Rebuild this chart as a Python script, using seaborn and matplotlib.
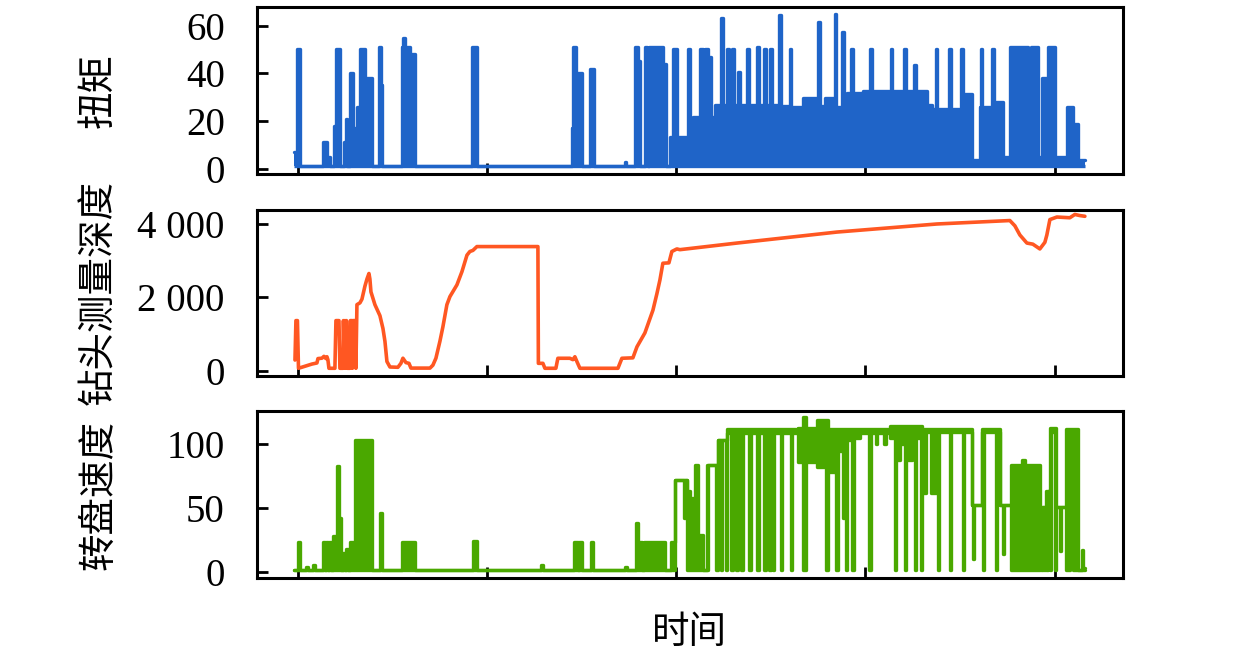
import numpy as np
import matplotlib
matplotlib.use("Agg")
import matplotlib.pyplot as plt
from matplotlib.ticker import FuncFormatter
import seaborn as sns

# ---- data (time in s) ----
# torque: step series, bins start at torque_t, filled from the floor up to torque_hi
torque_floor = 1.5
torque_t = [0, 3.2, 6.3, 30.7, 34.9, 38.1, 42.3, 44.9, 48.6, 53.4,
            55.0, 56.5, 59.2, 62.4, 66.6, 69.8, 75.0, 82.4, 89.8, 92.5,
            93.5, 114.2, 115.2, 117.3, 122.6, 128.4, 188.1, 193.4, 294.4, 294.9,
            298.1, 300.2, 304.4, 312.9, 317.6, 349.9, 351.5, 360.4, 363.6, 365.7,
            371.0, 373.1, 374.7, 375.2, 390.0, 393.2, 397.4, 400.6, 404.8, 416.5,
            418.6, 421.7, 429.1, 432.3, 434.4, 437.6, 440.8, 445.0, 451.3, 453.5,
            458.2, 459.8, 463.5, 465.1, 469.8, 471.4, 479.3, 480.9, 489.9, 491.5,
            497.3, 498.9, 503.7, 505.2, 513.2, 514.8, 524.3, 525.9, 538.0, 554.4,
            556.0, 561.3, 571.8, 573.4, 579.8, 581.4, 584.5, 589.3, 590.9, 601.4,
            609.4, 611.0, 631.0, 632.6, 645.3, 646.9, 655.9, 657.5, 669.1, 674.9,
            676.0, 678.6, 680.2, 692.9, 694.4, 705.6, 707.1, 709.2, 716.6, 725.1,
            726.2, 727.8, 738.3, 739.9, 749.4, 756.8, 775.8, 779.0, 786.4, 790.6,
            797.0, 804.4, 817.1, 823.4, 828.7, 836.1]
torque_hi = [7, 50, 1.5, 11.5, 5, 1.5, 18, 50, 1.5, 11.5,
             21, 1.5, 40, 17, 26, 50, 38, 1.5, 51, 35,
             1.5, 51, 55, 51, 48, 1.5, 51, 1.5, 17, 51,
             37, 40, 1.5, 42, 1.5, 3, 1.5, 51, 45, 1.5,
             51, 33, 1.5, 51, 44, 1.5, 13.6, 50, 13.6, 50,
             13.6, 22, 50, 22, 50, 47, 22, 26.8, 63, 26.8,
             50, 26.8, 50, 26.8, 40.7, 26.8, 50, 26.8, 51, 26.8,
             50, 26.8, 50, 26.8, 64.4, 26.5, 50, 26, 29.6, 61.6,
             26.5, 29.6, 65, 26, 57.4, 26, 31.7, 50, 31.7, 32.8,
             50, 32.8, 50, 32.8, 50, 32.8, 43.5, 32.8, 27, 5,
             25, 50, 25, 50, 25, 50, 25, 31.6, 4, 26,
             50, 26, 50, 28, 5, 51, 18.5, 51, 5, 38,
             51, 5, 26, 19, 4, 4]

# bit depth: plain line
depth_t = [1.1, 2.1, 3.7, 4.8, 11.6, 19.0, 24.3, 25.4, 29.6, 31.7,
           33.8, 34.9, 35.9, 37.0, 43.3, 44.4, 47.6, 48.6, 51.8, 52.3,
           53.4, 53.9, 55.0, 55.5, 56.5, 59.2, 59.7, 61.3, 61.8, 62.4,
           64.5, 65.5, 66.6, 69.8, 71.9, 75.0, 77.2, 79.3, 80.3, 81.4,
           85.6, 90.9, 94.1, 96.2, 98.3, 101.5, 109.9, 113.1, 115.2, 118.4,
           121.6, 123.7, 143.8, 146.9, 150.1, 154.3, 157.5, 161.7, 164.9, 172.3,
           177.6, 182.9, 186.0, 189.2, 193.4, 257.9, 258.4, 263.2, 265.3, 276.9,
           279.0, 291.7, 294.9, 297.0, 299.1, 302.3, 342.5, 346.7, 358.3, 362.6,
           371.0, 379.5, 383.7, 386.9, 390.0, 396.4, 399.5, 404.8, 408.0, 468.3,
           574.0, 679.7, 756.8, 762.1, 767.4, 774.8, 781.1, 788.5, 793.8, 795.9,
           799.1, 806.5, 820.2, 825.5, 830.8, 836.1]
depth_v = [290, 1365, 1365, 65, 120, 180, 210, 330, 340, 390,
           330, 380, 300, 65, 65, 1365, 1365, 65, 65, 1365,
           65, 1365, 65, 1365, 65, 65, 1365, 1365, 65, 1365,
           1365, 65, 1800, 1850, 1950, 2300, 2500, 2650, 2500, 2150,
           1800, 1500, 1150, 800, 250, 100, 92, 200, 340, 220,
           200, 70, 70, 150, 340, 800, 1200, 1800, 2020, 2340,
           2700, 3150, 3250, 3280, 3384, 3384, 200, 200, 65, 65,
           338, 338, 300, 380, 250, 65, 65, 338, 350, 650,
           1030, 1650, 2100, 2475, 2930, 2940, 3250, 3320, 3300, 3480,
           3780, 4000, 4094, 3950, 3700, 3480, 3450, 3320, 3500, 3700,
           4120, 4190, 4170, 4260, 4230, 4210]

# rotary speed: step series with min / max per bin
speed_t = [0, 4.8, 6.3, 13.2, 14.8, 20.6, 22.2, 31.2, 32.8, 34.4,
           35.9, 37.5, 39.1, 41.8, 46.0, 47.6, 50.2, 52.3, 53.9, 55.5,
           57.6, 59.7, 65.0, 82.4, 91.4, 93.0, 114.2, 127.9, 189.2, 194.0,
           261.6, 263.2, 296.5, 300.7, 301.8, 304.4, 314.5, 316.6, 350.4, 352.0,
           362.0, 363.6, 367.8, 370.5, 392.7, 399.0, 403.3, 412.0, 413.1, 415.4,
           418.6, 423.9, 427.0, 432.3, 436.5, 438.1, 446.6, 448.7, 451.3, 452.9,
           456.6, 458.2, 462.4, 464.0, 467.7, 469.3, 473.0, 474.6, 481.5, 483.0,
           489.9, 491.5, 497.3, 498.9, 502.6, 504.2, 506.3, 507.9, 514.8, 516.3,
           525.3, 526.9, 532.7, 538.0, 541.2, 552.8, 562.8, 564.4, 571.8, 573.4,
           575.0, 580.3, 581.9, 583.5, 585.0, 590.3, 591.9, 598.3, 608.3, 609.9,
           615.2, 616.8, 624.2, 625.7, 629.9, 635.2, 636.8, 638.4, 640.5, 645.8,
           647.4, 649.0, 653.2, 656.4, 658.0, 662.7, 664.3, 668.0, 673.9, 679.1,
           680.7, 682.3, 693.4, 695.0, 707.1, 708.7, 716.6, 717.7, 719.3, 727.2,
           728.3, 729.8, 742.0, 743.6, 746.2, 749.4, 751.0, 758.4, 769.5, 772.7,
           788.5, 790.1, 791.7, 792.8, 794.3, 795.4, 797.0, 799.1, 800.7, 804.4,
           806.0, 809.7, 811.3, 816.5, 820.2, 823.4, 828.7, 832.9, 834.5, 836.1]
speed_lo = [1, 1, 1, 1, 1, 1, 1, 1, 1, 1,
            1, 1, 1, 1, 1, 1, 1, 1, 1, 1,
            1, 1, 1, 1, 1, 1, 1, 1, 1, 1,
            1, 1, 1, 1, 1, 1, 1, 1, 1, 1,
            1, 1, 1, 1, 1, 1, 72, 42, 72, 1,
            1, 1, 1, 1, 1, 84, 1, 103, 1, 103,
            1, 109, 1, 109, 1, 109, 1, 109, 1, 109,
            1, 109, 1, 109, 1, 109, 1, 109, 1, 109,
            1, 109, 86, 1, 86, 82, 1, 78, 95, 1,
            95, 42, 103, 1, 103, 1, 105, 109, 1, 109,
            100, 109, 100, 109, 105, 1, 105, 88, 100, 1,
            100, 88, 105, 1, 105, 1, 62, 110, 62, 110,
            1, 110, 1, 110, 1, 110, 52, 10, 52, 110,
            1, 110, 1, 110, 52, 14, 52, 1, 1, 1,
            51, 1, 51, 1, 51, 1, 63, 1, 110, 1,
            51, 16, 51, 1, 110, 1, 1, 1, 1, 1]
speed_hi = [1, 23, 1, 4, 1, 5, 1, 23, 1, 23,
            1, 23, 1, 28, 83, 42, 1, 15, 1, 18,
            1, 23, 103, 1, 46, 1, 23, 1, 24, 1,
            5, 1, 23, 1, 23, 1, 23, 1, 4, 1,
            38, 23, 1, 23, 1, 23, 72, 72, 72, 63,
            58, 84, 29, 1, 84, 84, 84, 103, 103, 103,
            103, 112, 112, 112, 112, 112, 112, 112, 112, 112,
            112, 112, 112, 112, 112, 112, 112, 112, 112, 112,
            112, 112, 113, 121, 113, 119, 119, 112, 112, 112,
            112, 112, 112, 112, 112, 112, 112, 112, 112, 112,
            112, 112, 112, 112, 114, 114, 114, 114, 114, 114,
            114, 114, 114, 114, 114, 114, 112, 112, 112, 112,
            112, 112, 112, 112, 112, 112, 52, 52, 52, 112,
            112, 112, 112, 112, 52, 52, 52, 84, 88, 84,
            51, 51, 51, 51, 51, 63, 63, 113, 113, 113,
            51, 51, 51, 112, 112, 112, 1, 17, 3, 3]

time_ticks = [4, 204, 404, 604, 804]

# ---- style ----
sns.set_style("ticks")
plt.rcParams['font.family'] = ['Liberation Serif', 'Noto Sans CJK SC']
plt.rcParams.update({'text.color': 'black', 'axes.labelcolor': 'black',
                     'xtick.color': 'black', 'ytick.color': 'black',
                     'axes.edgecolor': 'black', 'axes.linewidth': 2.2})
CJK = ['Noto Sans CJK SC', 'DejaVu Sans']
LW = 2.4
BLUE, ORANGE, GREEN = "#1f64c8", "#ff5722", "#4aa800"


def draw_band(ax, t, lo, hi, color):
    """Signal drawn as min/max per time bin: filled band plus its outline."""
    ax.fill_between(t, lo, hi, step="post", color=color, lw=0)
    sns.lineplot(x=t, y=hi, ax=ax, color=color, lw=LW, drawstyle="steps-post",
                 estimator=None, sort=False, errorbar=None)
    if np.ndim(lo) == 0:
        ax.hlines(lo, t[0], t[-1], color=color, lw=LW)
    else:
        sns.lineplot(x=t, y=lo, ax=ax, color=color, lw=LW, drawstyle="steps-post",
                     estimator=None, sort=False, errorbar=None)


fig = plt.figure(figsize=(12.6, 6.58), dpi=100)
ax1 = fig.add_axes([0.2037, 0.7356, 0.6875, 0.2543])
ax2 = fig.add_axes([0.2037, 0.4286, 0.6875, 0.2530])
ax3 = fig.add_axes([0.2037, 0.1211, 0.6875, 0.2543])

draw_band(ax1, torque_t, torque_floor, torque_hi, BLUE)
sns.lineplot(x=depth_t, y=depth_v, ax=ax2, color=ORANGE, lw=LW + 0.2,
             estimator=None, sort=False, errorbar=None)
draw_band(ax3, speed_t, speed_lo, speed_hi, GREEN)

ax1.set_ylim(-2.0, 67.9)
ax1.set_yticks([0, 20, 40, 60])
ax2.set_ylim(-145, 4395)
ax2.set_yticks([0, 2000, 4000])
ax2.yaxis.set_major_formatter(FuncFormatter(lambda v, p: f"{int(v):,}".replace(",", " ")))
ax3.set_ylim(-5.2, 126.1)
ax3.set_yticks([0, 50, 100])

for ax, label in zip([ax1, ax2, ax3], ["扭矩", "钻头测量深度", "转盘速度"]):
    ax.set_xlim(-39.4, 876.3)
    ax.set_xticks(time_ticks)
    ax.set_xlabel("")
    ax.tick_params(axis="both", direction="in", length=8, width=2, labelsize=28,
                   labelbottom=False, pad=23)
    ax.set_ylabel(label, fontsize=27, family=CJK)
    ax.yaxis.set_label_coords(-0.160, 0.5)
    for s in ax.spines.values():
        s.set_visible(True)
        s.set_linewidth(2.2)
        s.set_color("black")

ax3.set_xlabel("时间", fontsize=27, family=CJK)
ax3.xaxis.set_label_coords(0.5, -0.21)
ax3.xaxis.label.set_verticalalignment("top")

plt.savefig("out.png", dpi=100)
